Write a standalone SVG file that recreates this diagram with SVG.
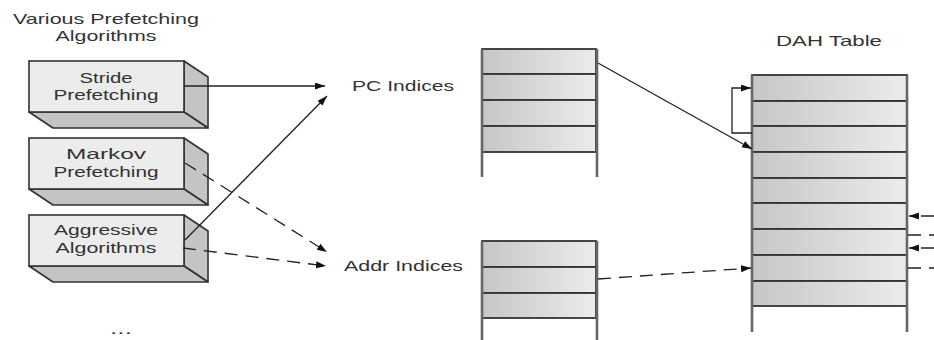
<svg xmlns="http://www.w3.org/2000/svg" width="934" height="340" viewBox="0 0 934 340">
<defs>
<linearGradient id="rowg" x1="0" y1="0" x2="1" y2="0">
<stop offset="0" stop-color="#c6c6c6"/>
<stop offset="1" stop-color="#ececec"/>
</linearGradient>
<marker id="arr" markerWidth="11" markerHeight="8" refX="10" refY="3.5" orient="auto" markerUnits="userSpaceOnUse">
<path d="M0,0 L10,3.5 L0,7 z" fill="#111"/>
</marker>
</defs>
<style>
text{font-family:"Liberation Sans",Arial,sans-serif;font-size:14.5px;fill:#333;}
.front{fill:#ececec;stroke:#333;stroke-width:1.6;}
.side{fill:#c4c4c4;stroke:#333;stroke-width:1.6;stroke-linejoin:round;}
.row{fill:url(#rowg);stroke:#333;stroke-width:1.8;}
.vert{stroke:#666;stroke-width:2.6;fill:none;}
.conn{stroke:#222;stroke-width:1.3;fill:none;}
.dash{stroke-dasharray:13 8;}
</style>
<rect width="934" height="340" fill="#fff"/>

<g id="title">
<text x="106" y="24" text-anchor="middle" textLength="186" lengthAdjust="spacingAndGlyphs">Various Prefetching</text>
<text x="106" y="41" text-anchor="middle" textLength="101" lengthAdjust="spacingAndGlyphs">Algorithms</text>
</g>

<g id="stride">
<polygon class="side" points="184,61 208,77 208,128 184,112"/>
<polygon class="side" points="29,112 184,112 208,128 53,128"/>
<rect class="front" x="29" y="61" width="155" height="51"/>
<text x="106" y="83" text-anchor="middle" textLength="53" lengthAdjust="spacingAndGlyphs">Stride</text>
<text x="106" y="100" text-anchor="middle" textLength="105" lengthAdjust="spacingAndGlyphs">Prefetching</text>
</g>

<g id="markov">
<polygon class="side" points="184,138 208,154 208,205 184,189"/>
<polygon class="side" points="29,189 184,189 208,205 53,205"/>
<rect class="front" x="29" y="138" width="155" height="51"/>
<text x="106" y="159" text-anchor="middle" textLength="80" lengthAdjust="spacingAndGlyphs">Markov</text>
<text x="106" y="177" text-anchor="middle" textLength="105" lengthAdjust="spacingAndGlyphs">Prefetching</text>
</g>

<g id="aggressive">
<polygon class="side" points="184,215 208,231 208,282 184,266"/>
<polygon class="side" points="29,266 184,266 208,282 53,282"/>
<rect class="front" x="29" y="215" width="155" height="51"/>
<text x="106" y="235" text-anchor="middle" textLength="104" lengthAdjust="spacingAndGlyphs">Aggressive</text>
<text x="106" y="253" text-anchor="middle" textLength="101" lengthAdjust="spacingAndGlyphs">Algorithms</text>
</g>

<g id="more">
<text x="121" y="334" text-anchor="middle" textLength="22" lengthAdjust="spacingAndGlyphs">...</text>
</g>

<g id="pc-indices">
<text x="352" y="91" textLength="102" lengthAdjust="spacingAndGlyphs">PC Indices</text>
</g>
<g id="addr-indices">
<text x="344" y="271" textLength="119" lengthAdjust="spacingAndGlyphs">Addr Indices</text>
</g>

<g id="pc-table">
<rect class="row" x="482" y="49" width="114" height="25"/>
<rect class="row" x="482" y="74" width="114" height="26"/>
<rect class="row" x="482" y="100" width="114" height="26"/>
<rect class="row" x="482" y="126" width="114" height="26"/>
<line class="vert" x1="482" y1="49" x2="482" y2="177"/>
<line class="vert" x1="597" y1="49" x2="597" y2="177"/>
</g>

<g id="addr-table">
<rect class="row" x="482" y="241" width="114" height="26"/>
<rect class="row" x="482" y="267" width="114" height="26"/>
<rect class="row" x="482" y="293" width="114" height="25"/>
<line class="vert" x1="482" y1="241" x2="482" y2="340"/>
<line class="vert" x1="597" y1="241" x2="597" y2="340"/>
</g>

<g id="dah-table">
<text x="829" y="46" text-anchor="middle" textLength="106" lengthAdjust="spacingAndGlyphs">DAH Table</text>
<rect class="row" x="752" y="75" width="155" height="26"/>
<rect class="row" x="752" y="101" width="155" height="25"/>
<rect class="row" x="752" y="126" width="155" height="26"/>
<rect class="row" x="752" y="152" width="155" height="26"/>
<rect class="row" x="752" y="178" width="155" height="25"/>
<rect class="row" x="752" y="203" width="155" height="26"/>
<rect class="row" x="752" y="229" width="155" height="26"/>
<rect class="row" x="752" y="255" width="155" height="26"/>
<rect class="row" x="752" y="281" width="155" height="25"/>
<line class="vert" x1="752" y1="75" x2="752" y2="332"/>
<line class="vert" x1="907" y1="75" x2="907" y2="332"/>
</g>

<g id="connectors">
<line class="conn" x1="184" y1="86" x2="325" y2="86" marker-end="url(#arr)"/>
<line class="conn" x1="185" y1="240" x2="327" y2="96" marker-end="url(#arr)"/>
<line class="conn dash" x1="185" y1="163" x2="327" y2="252" marker-end="url(#arr)"/>
<line class="conn dash" x1="183" y1="248" x2="326" y2="266" marker-end="url(#arr)"/>
<line class="conn" x1="598" y1="63" x2="752" y2="149" marker-end="url(#arr)"/>
<line class="conn dash" x1="598" y1="279" x2="751" y2="268" marker-end="url(#arr)"/>
<polyline class="conn" points="752,133 732,133 732,88 751,88" marker-end="url(#arr)"/>
<line class="conn dash" x1="934" y1="216" x2="909" y2="216" stroke-dasharray="4 8 13 0" marker-end="url(#arr)"/>
<line class="conn dash" x1="908" y1="235" x2="934" y2="235" stroke-dasharray="14 7"/>
<line class="conn dash" x1="934" y1="248" x2="909" y2="248" stroke-dasharray="4 8 13 0" marker-end="url(#arr)"/>
<line class="conn dash" x1="908" y1="268" x2="934" y2="268" stroke-dasharray="14 7"/>
</g>
</svg>
